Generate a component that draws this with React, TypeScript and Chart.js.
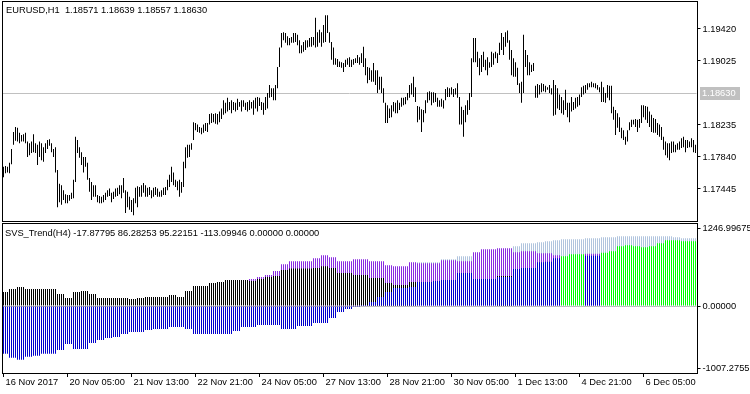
import React, { useEffect, useRef } from 'react';
import { Chart, registerables } from 'chart.js';

Chart.register(...registerables);

const FONT_FAMILY = "'Liberation Sans', Arial, sans-serif";
const FONT_SIZE = 9.3;

// ---- EURUSD H1 bar highs / lows (one entry per hourly bar) ----
const highs = [
  1.1772,1.1773,1.1772,1.1777,1.1794,1.1815,1.1821,1.1820,1.1814,1.1811,
  1.1812,1.1814,1.1803,1.1801,1.1803,1.1812,1.1801,1.1799,1.1803,1.1801,
  1.1796,1.1801,1.1805,1.1806,1.1801,1.1794,1.1796,1.1768,1.1751,1.1749,
  1.1743,1.1738,1.1737,1.1737,1.1740,1.1756,1.1809,1.1805,1.1796,1.1790,
  1.1784,1.1784,1.1777,1.1758,1.1753,1.1749,1.1749,1.1737,1.1736,1.1735,
  1.1737,1.1740,1.1743,1.1745,1.1740,1.1741,1.1745,1.1746,1.1749,1.1749,
  1.1758,1.1743,1.1741,1.1735,1.1731,1.1733,1.1746,1.1748,1.1747,1.1749,
  1.1752,1.1749,1.1746,1.1747,1.1743,1.1746,1.1747,1.1745,1.1741,1.1743,
  1.1746,1.1747,1.1756,1.1762,1.1772,1.1765,1.1756,1.1754,1.1756,1.1753,
  1.1778,1.1796,1.1799,1.1799,1.1801,1.1827,1.1826,1.1824,1.1821,1.1820,
  1.1824,1.1826,1.1826,1.1837,1.1838,1.1837,1.1838,1.1837,1.1840,1.1844,
  1.1854,1.1851,1.1857,1.1852,1.1854,1.1852,1.1851,1.1856,1.1852,1.1854,
  1.1854,1.1851,1.1852,1.1854,1.1852,1.1854,1.1857,1.1858,1.1857,1.1852,
  1.1851,1.1858,1.1863,1.1873,1.1869,1.1869,1.1873,1.1895,1.1919,1.1937,
  1.1938,1.1937,1.1933,1.1931,1.1932,1.1937,1.1937,1.1935,1.1928,1.1922,
  1.1926,1.1928,1.1928,1.1931,1.1932,1.1932,1.1956,1.1938,1.1941,1.1938,
  1.1947,1.1959,1.1959,1.1938,1.1926,1.1919,1.1906,1.1905,1.1902,1.1901,
  1.1900,1.1904,1.1906,1.1907,1.1904,1.1905,1.1906,1.1910,1.1907,1.1912,
  1.1920,1.1906,1.1895,1.1894,1.1891,1.1900,1.1891,1.1891,1.1883,1.1883,
  1.1869,1.1851,1.1848,1.1844,1.1848,1.1852,1.1851,1.1854,1.1851,1.1857,
  1.1857,1.1858,1.1863,1.1873,1.1875,1.1883,1.1870,1.1847,1.1846,1.1843,
  1.1842,1.1854,1.1864,1.1865,1.1864,1.1864,1.1863,1.1857,1.1854,1.1856,
  1.1854,1.1868,1.1870,1.1869,1.1870,1.1868,1.1869,1.1875,1.1858,1.1846,
  1.1842,1.1848,1.1854,1.1863,1.1906,1.1931,1.1931,1.1914,1.1906,1.1910,
  1.1914,1.1904,1.1907,1.1901,1.1914,1.1912,1.1914,1.1912,1.1925,1.1937,
  1.1932,1.1938,1.1940,1.1928,1.1916,1.1906,1.1901,1.1894,1.1875,1.1877,
  1.1935,1.1916,1.1910,1.1901,1.1898,1.1900,1.1872,1.1874,1.1873,1.1875,
  1.1874,1.1872,1.1870,1.1873,1.1869,1.1879,1.1873,1.1869,1.1861,1.1858,
  1.1854,1.1867,1.1851,1.1851,1.1858,1.1852,1.1857,1.1858,1.1861,1.1870,
  1.1872,1.1873,1.1875,1.1875,1.1877,1.1875,1.1875,1.1873,1.1870,1.1877,
  1.1870,1.1863,1.1873,1.1872,1.1872,1.1846,1.1842,1.1838,1.1833,1.1820,
  1.1817,1.1809,1.1817,1.1827,1.1830,1.1830,1.1831,1.1830,1.1831,1.1848,
  1.1848,1.1847,1.1846,1.1840,1.1836,1.1832,1.1831,1.1826,1.1824,1.1821,
  1.1809,1.1803,1.1801,1.1801,1.1803,1.1803,1.1799,1.1801,1.1803,1.1807,
  1.1809,1.1805,1.1805,1.1803,1.1807,1.1805,1.1799,
];

const lows = [
  1.1759,1.1764,1.1765,1.1764,1.1775,1.1799,1.1804,1.1803,1.1801,1.1803,
  1.1803,1.1801,1.1784,1.1786,1.1789,1.1790,1.1789,1.1774,1.1784,1.1780,
  1.1778,1.1789,1.1794,1.1798,1.1790,1.1784,1.1765,1.1722,1.1728,1.1725,
  1.1731,1.1727,1.1727,1.1730,1.1732,1.1733,1.1753,1.1789,1.1783,1.1774,
  1.1765,1.1772,1.1756,1.1741,1.1731,1.1735,1.1735,1.1728,1.1727,1.1727,
  1.1728,1.1731,1.1735,1.1736,1.1728,1.1732,1.1735,1.1736,1.1738,1.1733,
  1.1740,1.1715,1.1722,1.1719,1.1716,1.1712,1.1727,1.1722,1.1735,1.1735,
  1.1740,1.1735,1.1735,1.1737,1.1733,1.1735,1.1737,1.1735,1.1735,1.1735,
  1.1737,1.1737,1.1743,1.1747,1.1753,1.1749,1.1747,1.1743,1.1735,1.1740,
  1.1747,1.1770,1.1783,1.1784,1.1793,1.1805,1.1817,1.1815,1.1814,1.1812,
  1.1814,1.1816,1.1815,1.1824,1.1826,1.1827,1.1825,1.1824,1.1827,1.1831,
  1.1836,1.1838,1.1840,1.1842,1.1838,1.1842,1.1840,1.1842,1.1846,1.1840,
  1.1846,1.1842,1.1840,1.1842,1.1844,1.1836,1.1844,1.1840,1.1847,1.1842,
  1.1836,1.1842,1.1844,1.1857,1.1858,1.1854,1.1854,1.1869,1.1895,1.1919,
  1.1928,1.1925,1.1922,1.1922,1.1925,1.1925,1.1926,1.1922,1.1912,1.1912,
  1.1914,1.1916,1.1919,1.1920,1.1920,1.1922,1.1919,1.1920,1.1925,1.1920,
  1.1925,1.1926,1.1937,1.1925,1.1904,1.1898,1.1898,1.1895,1.1895,1.1894,
  1.1889,1.1895,1.1898,1.1895,1.1895,1.1898,1.1900,1.1900,1.1898,1.1900,
  1.1895,1.1885,1.1875,1.1879,1.1877,1.1877,1.1873,1.1863,1.1867,1.1863,
  1.1851,1.1826,1.1826,1.1832,1.1833,1.1840,1.1838,1.1838,1.1842,1.1846,
  1.1848,1.1849,1.1854,1.1857,1.1861,1.1858,1.1852,1.1827,1.1830,1.1815,
  1.1827,1.1838,1.1851,1.1854,1.1848,1.1851,1.1852,1.1846,1.1846,1.1846,
  1.1844,1.1854,1.1858,1.1858,1.1861,1.1858,1.1861,1.1857,1.1824,1.1824,
  1.1809,1.1827,1.1836,1.1842,1.1858,1.1901,1.1901,1.1895,1.1885,1.1889,
  1.1895,1.1891,1.1885,1.1894,1.1895,1.1898,1.1906,1.1900,1.1910,1.1916,
  1.1910,1.1920,1.1925,1.1904,1.1885,1.1883,1.1883,1.1873,1.1863,1.1851,
  1.1863,1.1895,1.1885,1.1885,1.1889,1.1890,1.1857,1.1857,1.1861,1.1864,
  1.1865,1.1864,1.1867,1.1863,1.1861,1.1835,1.1836,1.1844,1.1842,1.1838,
  1.1836,1.1842,1.1833,1.1827,1.1840,1.1842,1.1844,1.1846,1.1848,1.1858,
  1.1861,1.1863,1.1867,1.1870,1.1870,1.1870,1.1869,1.1867,1.1864,1.1852,
  1.1852,1.1851,1.1857,1.1854,1.1838,1.1830,1.1811,1.1820,1.1815,1.1807,
  1.1805,1.1799,1.1803,1.1817,1.1821,1.1824,1.1821,1.1815,1.1820,1.1826,
  1.1833,1.1830,1.1826,1.1821,1.1815,1.1814,1.1814,1.1811,1.1809,1.1805,
  1.1793,1.1786,1.1783,1.1780,1.1789,1.1790,1.1790,1.1793,1.1793,1.1795,
  1.1796,1.1790,1.1795,1.1796,1.1796,1.1790,1.1789,
];

// ---- SVS_Trend(H4) buffers, one value per H4 block ----
const blackH4 = [
  224,272,304,272,272,272,272,192,128,224,
  240,192,128,128,128,128,112,128,144,144,
  144,176,144,240,320,320,368,384,416,416,
  416,400,432,464,480,576,600,600,600,608,
  640,608,528,528,496,496,448,448,368,336,
  336,384,0,0,0,0,0,0,0,0,
  0,0,480,480,0,0,0,0,0,0,
  0,0,0,0,0,0,0,0,0,0,
  0,0,0,0,0,0,0,
];
const purpleH4 = [
  0,0,0,0,0,0,0,0,0,0,
  0,0,0,0,0,0,0,0,0,0,
  0,0,0,0,0,0,0,0,0,0,
  0,432,464,496,560,672,720,720,720,768,
  816,784,720,720,752,752,720,720,656,640,
  640,704,688,688,688,736,736,720,720,864,
  912,912,928,928,864,880,880,848,848,816,
  0,0,0,838,838,0,0,0,0,0,
  0,0,0,0,0,0,0,
];
const lightBlueH4 = [
  0,0,0,0,0,0,0,0,0,0,
  0,0,0,0,0,0,0,0,0,0,
  0,0,0,0,0,0,0,0,0,0,
  0,0,0,0,0,0,0,0,0,0,
  0,0,0,0,0,0,0,0,0,0,
  0,0,704,704,704,752,752,800,800,848,
  880,880,896,896,960,1008,1008,1024,1040,1056,
  1072,1072,1072,1088,1088,1104,1104,1120,1120,1120,
  1120,1120,1120,1120,1104,1088,1088,
];
const blueH4 = [
  -768,-832,-864,-816,-800,-768,-768,-704,-608,-688,
  -688,-592,-544,-512,-496,-448,-416,-416,-384,-368,
  -368,-336,-336,-368,-448,-448,-448,-448,-448,-400,
  -336,-336,-304,-304,-304,-368,-368,-320,-320,-272,
  -272,-192,-96,-48,-16,16,64,144,224,288,
  288,304,384,384,400,416,416,528,528,432,
  432,432,464,464,592,608,608,704,712,768,
  0,0,0,806,806,0,0,0,0,0,
  0,0,0,0,0,0,0,
];
const greenH4 = [
  0,0,0,0,0,0,0,0,0,0,
  0,0,0,0,0,0,0,0,0,0,
  0,0,0,0,0,0,0,0,0,0,
  0,0,0,0,0,0,0,0,0,0,
  0,0,0,0,0,0,0,0,0,0,
  0,0,0,0,0,0,0,0,0,0,
  0,0,0,0,0,0,0,0,0,0,
  800,832,832,0,0,853,880,960,976,960,
  944,960,1008,1056,1056,1040,1040,
];

const currentPrice = 1.1863;
const priceTicks = [1.1942, 1.19025, 1.18235, 1.1784, 1.17445];
const priceMin = 1.1705;
const priceMax = 1.19753;
const indTicks = [1246.99675, 0, -1007.27551];
const indMin = -1075;
const indMax = 1316;

const tickTimes = ['16 Nov 21:00', '20 Nov 05:00', '21 Nov 13:00', '22 Nov 21:00', '24 Nov 05:00', '27 Nov 13:00', '28 Nov 21:00', '30 Nov 05:00', '1 Dec 13:00', '4 Dec 21:00', '6 Dec 05:00'];
const tickLabels = ['16 Nov 2017', '20 Nov 05:00', '21 Nov 13:00', '22 Nov 21:00', '24 Nov 05:00', '27 Nov 13:00', '28 Nov 21:00', '30 Nov 05:00', '1 Dec 13:00', '4 Dec 21:00', '6 Dec 05:00'];

const priceTitle = 'EURUSD,H1  1.18571 1.18639 1.18557 1.18630';
const indTitle = 'SVS_Trend(H4) -17.87795 86.28253 95.22151 -113.09946 0.00000 0.00000';

const MONTHS = ['Jan', 'Feb', 'Mar', 'Apr', 'May', 'Jun', 'Jul', 'Aug', 'Sep', 'Oct', 'Nov', 'Dec'];

function barTimes(n: number): string[] {
  const out: string[] = [];
  let t = Date.UTC(2017, 10, 16, 21);
  while (out.length < n) {
    const d = new Date(t);
    const wd = d.getUTCDay();
    if (wd !== 0 && wd !== 6) {
      out.push(`${d.getUTCDate()} ${MONTHS[d.getUTCMonth()]} ${String(d.getUTCHours()).padStart(2, '0')}:00`);
    }
    t += 3600000;
  }
  return out;
}

const N = Math.min(highs.length, lows.length);
const times = barTimes(N);

function perBar(h4: number[]) {
  return times.map((_, i) => {
    const v = h4[Math.floor((i + 1) / 4)];
    return v ? v : null;
  });
}

const font = { family: FONT_FAMILY, size: FONT_SIZE };
const fontStr = `${FONT_SIZE}px ${FONT_FAMILY}`;

function frame(chart: any) {
  const { ctx, chartArea } = chart;
  ctx.save();
  ctx.strokeStyle = '#000';
  ctx.lineWidth = 1;
  ctx.strokeRect(chartArea.left, chartArea.top - 0.5, chartArea.right + 1 - chartArea.left, chartArea.bottom - chartArea.top + 1);
  ctx.restore();
}

export default function App() {
  const topRef = useRef<HTMLCanvasElement>(null);
  const botRef = useRef<HTMLCanvasElement>(null);

  useEffect(() => {
    const topPlugin = {
      id: 'topDecor',
      beforeDatasetsDraw(chart: any) {
        const { ctx, chartArea, scales } = chart;
        const y = Math.round(scales.y.getPixelForValue(currentPrice)) + 0.5;
        ctx.save();
        ctx.strokeStyle = '#c0c0c0';
        ctx.lineWidth = 1;
        ctx.beginPath();
        ctx.moveTo(chartArea.left, y);
        ctx.lineTo(chartArea.right, y);
        ctx.stroke();
        ctx.restore();
      },
      afterDraw(chart: any) {
        const { ctx, chartArea, scales } = chart;
        frame(chart);
        const y = Math.round(scales.y.getPixelForValue(currentPrice));
        ctx.save();
        ctx.fillStyle = '#c0c0c0';
        ctx.fillRect(chartArea.right + 3.5, y - 6, 40, 13);
        ctx.fillStyle = '#ffffff';
        ctx.font = fontStr;
        ctx.textBaseline = 'middle';
        ctx.textAlign = 'left';
        ctx.fillText(currentPrice.toFixed(5), chartArea.right + 5.5, y + 0.5);
        ctx.fillStyle = '#000';
        ctx.fillText(priceTitle, 6, 10);
        ctx.restore();
      },
    };

    const botPlugin = {
      id: 'botDecor',
      beforeDatasetsDraw(chart: any) {
        const { ctx, chartArea, scales } = chart;
        const y = Math.round(scales.y.getPixelForValue(0)) + 0.5;
        ctx.save();
        ctx.strokeStyle = '#c0c0c0';
        ctx.lineWidth = 1;
        ctx.beginPath();
        ctx.moveTo(chartArea.left, y);
        ctx.lineTo(chartArea.right, y);
        ctx.stroke();
        ctx.restore();
      },
      afterDraw(chart: any) {
        const { ctx } = chart;
        frame(chart);
        ctx.save();
        ctx.fillStyle = '#000';
        ctx.font = fontStr;
        ctx.textBaseline = 'middle';
        ctx.textAlign = 'left';
        ctx.fillText(indTitle, 5, 11);
        ctx.restore();
      },
    };

    const yAxisCommon = (ticks: number[], min: number, max: number) => ({
      position: 'right' as const,
      min,
      max,
      afterBuildTicks: (s: any) => {
        s.ticks = ticks.map((v) => ({ value: v }));
      },
      afterFit: (s: any) => {
        s.width = 53.5;
        s.paddingTop = 0;
        s.paddingBottom = 0;
      },
      ticks: {
        autoSkip: false,
        padding: 2,
        color: '#000',
        font,
        callback: (v: any) => Number(v).toFixed(5),
      },
      grid: { drawOnChartArea: false, drawTicks: true, tickLength: 4, color: '#000' },
      border: { display: false },
    });

    const top = new Chart(topRef.current!, {
      type: 'bar',
      data: {
        labels: times,
        datasets: [
          {
            data: times.map((_, i) => [lows[i], highs[i]]),
            backgroundColor: '#000000',
            borderWidth: 0,
            barThickness: 1,
            inflateAmount: 0,
          } as any,
        ],
      },
      options: {
        animation: false,
        responsive: false,
        events: [],
        layout: { padding: { left: 2.5, top: 2, right: 0, bottom: 1 } },
        plugins: { legend: { display: false }, tooltip: { enabled: false } },
        scales: {
          x: { display: false, offset: true },
          y: yAxisCommon(priceTicks, priceMin, priceMax) as any,
        },
      },
      plugins: [topPlugin],
    });

    const barCommon = { borderWidth: 0, barThickness: 1, inflateAmount: 0, grouped: false };

    const bot = new Chart(botRef.current!, {
      type: 'bar',
      data: {
        labels: times,
        datasets: [
          { ...barCommon, label: 'green', data: perBar(greenH4), backgroundColor: '#00ff00', order: 0 } as any,
          { ...barCommon, label: 'blue', data: perBar(blueH4), backgroundColor: '#0000cd', order: 1 } as any,
          { ...barCommon, label: 'black', data: perBar(blackH4), backgroundColor: '#000000', order: 2 } as any,
          { ...barCommon, label: 'purple', data: perBar(purpleH4), backgroundColor: '#8a2be2', order: 3 } as any,
          { ...barCommon, label: 'lightblue', data: perBar(lightBlueH4), backgroundColor: '#b0c4de', order: 4 } as any,
        ],
      },
      options: {
        animation: false,
        responsive: false,
        events: [],
        layout: { padding: { left: 2.5, top: 2, right: 0, bottom: 0 } },
        plugins: { legend: { display: false }, tooltip: { enabled: false } },
        scales: {
          x: {
            position: 'bottom',
            offset: true,
            afterBuildTicks: (s: any) => {
              s.ticks = s.ticks.filter((t: any) => tickTimes.includes(times[t.value]));
            },
            afterFit: (s: any) => {
              s.height = 21;
              s.paddingLeft = 0;
              s.paddingRight = 0;
            },
            ticks: {
              autoSkip: false,
              maxRotation: 0,
              minRotation: 0,
              align: 'start',
              labelOffset: 2,
              padding: 0,
              color: '#000',
              font,
              callback: (v: any) => {
                const k = tickTimes.indexOf(times[v]);
                return k >= 0 ? tickLabels[k] : '';
              },
            },
            grid: { offset: false, drawOnChartArea: false, drawTicks: true, tickLength: 4, color: '#000' },
            border: { display: false },
          } as any,
          y: yAxisCommon(indTicks, indMin, indMax) as any,
        },
      },
      plugins: [botPlugin],
    });

    return () => {
      top.destroy();
      bot.destroy();
    };
  }, []);

  return (
    <div style={{ position: 'absolute', left: 0, top: 0, width: 750, height: 394, background: '#fff', overflow: 'hidden' }}>
      <canvas ref={topRef} width={750} height={222} style={{ position: 'absolute', left: 0, top: 0, width: 750, height: 222 }} />
      <canvas ref={botRef} width={750} height={172} style={{ position: 'absolute', left: 0, top: 222, width: 750, height: 172 }} />
    </div>
  );
}
